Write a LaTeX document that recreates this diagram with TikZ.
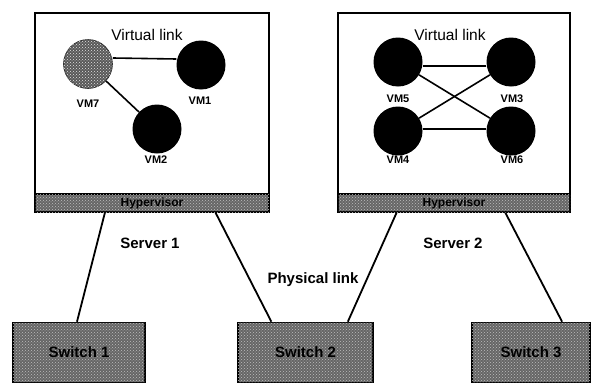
\documentclass[tikz,border=0pt]{standalone}
\usepackage{fontspec}
\setmainfont{Liberation Sans}
\usetikzlibrary{calc,patterns}
\begin{document}
\begin{tikzpicture}[x=1pt,y=-1pt,
  serverbox/.style={draw=black,line width=1.6pt,fill=white,inner sep=0pt},
  greybox/.style={draw=black,line width=1.6pt,fill=gray!80!black,inner sep=0pt,
     postaction={pattern=crosshatch dots,pattern color=gray!50},
     text=black},
  barbox/.style={greybox,font=\fontsize{12}{13}\selectfont\bfseries},
  swbox/.style={greybox,font=\fontsize{15}{17}\selectfont\bfseries},
  vm/.style={circle,fill=black,minimum size=49pt,inner sep=0pt},
  vmgrey/.style={circle,fill=gray!70!black,draw=gray!30!black,line width=0.6pt,minimum size=49pt,inner sep=0pt,
     postaction={pattern=crosshatch dots,pattern color=white!80!gray}},
  vmlabel/.style={font=\fontsize{11}{13}\selectfont\bfseries},
  title/.style={font=\fontsize{15.5}{18}\selectfont},
  lbl/.style={font=\fontsize{15}{18}\selectfont\bfseries},
  vlink/.style={line width=1.6pt},
  plink/.style={line width=1.8pt}]
\useasboundingbox (0,0) rectangle (595,391);

% servers
\node[serverbox,minimum width=234,minimum height=181] (srv1) at (152,103.5) {};
\node[barbox,minimum width=234,minimum height=18] (bar1) at (152,203) {Hypervisor};
\node[serverbox,minimum width=232,minimum height=181] (srv2) at (454,103.5) {};
\node[barbox,minimum width=232,minimum height=18] (bar2) at (454,203) {Hypervisor};

\node[title] (vl1) at (147,35) {Virtual link};
\node[title] (vl2) at (450,35) {Virtual link};

% switches
\node[swbox,minimum width=132,minimum height=60] (sw1) at (79,352.5) {Switch 1};
\node[swbox,minimum width=135,minimum height=60] (sw2) at (305.5,352.5) {Switch 2};
\node[swbox,minimum width=118,minimum height=60] (sw3) at (531,352.5) {Switch 3};

% VMs server 1
\node[vmgrey] (vm7) at (88,64) {};
\node[vm] (vm1) at (201,65) {};
\node[vm] (vm2) at (157,129) {};
\node[vmlabel] (l7) at (88,104) {VM7};
\node[vmlabel] (l1) at (200,101) {VM1};
\node[vmlabel] (l2) at (156,160) {VM2};
\draw[vlink] ([yshift=6]vm7.east) -- ([yshift=6]vm1.west);
\draw[vlink] (vm7) -- (vm2);

% VMs server 2
\node[vm] (vm5) at (398,62) {};
\node[vm] (vm3) at (511,62) {};
\node[vm] (vm4) at (398,131) {};
\node[vm] (vm6) at (511,131) {};
\node[vmlabel] (l5) at (398,99) {VM5};
\node[vmlabel] (l3) at (512,99) {VM3};
\node[vmlabel] (l4) at (398,160) {VM4};
\node[vmlabel] (l6) at (512,160) {VM6};
\draw[vlink] ([yshift=-4]vm5.east) -- ([yshift=-4]vm3.west);
\draw[vlink] ([yshift=2]vm4.east) -- ([yshift=2]vm6.west);
\draw[vlink] (vm5) -- (vm6);
\draw[vlink] (vm4) -- (vm3);

% physical links
\draw[plink] ($(bar1.south west)!0.30!(bar1.south east)$) -- ($(sw1.north west)!0.485!(sw1.north east)$);
\draw[plink] ($(bar1.south west)!0.77!(bar1.south east)$) -- ($(sw2.north west)!0.25!(sw2.north east)$);
\draw[plink] ($(bar2.south west)!0.254!(bar2.south east)$) -- ($(sw2.north west)!0.81!(sw2.north east)$);
\draw[plink] ($(bar2.south west)!0.72!(bar2.south east)$) -- ($(sw3.north west)!0.76!(sw3.north east)$);

\node[lbl] (s1) at (150,243) {Server 1};
\node[lbl] (s2) at (453,243) {Server 2};
\node[lbl] (pl) at (313,280) {Physical link};
\end{tikzpicture}
\end{document}
